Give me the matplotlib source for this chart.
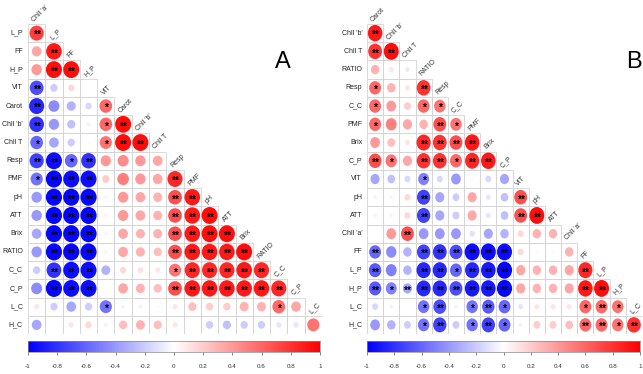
import numpy as np
import matplotlib
matplotlib.use("Agg")
import matplotlib.pyplot as plt
from matplotlib.colors import LinearSegmentedColormap
from matplotlib.patches import Ellipse, Rectangle

plt.rcParams['font.family'] = ['Liberation Sans', 'DejaVu Sans']

# panel A
varsA = ["Chll 'a'", "L_P", "FF", "H_P", "VIT", "Carot", "Chll 'b'", "Chll T", "Resp", "PMF",
         "pH", "ATT", "Brix", "RATIO", "C_C", "C_P", "L_C", "H_C"]
corrA = [
    [0.75],
    [0.35, 0.90],
    [0.40, 0.95, 0.95],
    [-0.70, -0.20, 0.15, 0.02],
    [-0.85, -0.45, -0.30, -0.15, 0.60],
    [-0.80, -0.40, -0.25, -0.05, 0.60, 0.95],
    [-0.60, -0.35, -0.20, -0.02, 0.55, 0.95, 0.95],
    [-0.75, -0.95, -0.60, -0.80, 0.40, 0.45, 0.40, 0.35],
    [-0.55, -0.97, -0.95, -0.95, 0.20, 0.50, 0.40, 0.35, 0.85],
    [-0.40, -0.97, -0.97, -0.97, 0.05, 0.40, 0.35, 0.30, 0.70, 0.90],
    [-0.40, -0.97, -0.97, -0.97, 0.05, 0.40, 0.35, 0.30, 0.70, 0.90, 0.95],
    [-0.35, -0.97, -0.97, -0.97, 0.05, 0.35, 0.30, 0.30, 0.70, 0.90, 0.95, 0.95],
    [-0.40, -0.97, -0.97, -0.97, 0.05, 0.35, 0.30, 0.25, 0.70, 0.90, 0.90, 0.90, 0.95],
    [-0.20, -0.80, -0.95, -0.95, -0.30, 0.15, 0.12, 0.10, 0.55, 0.85, 0.85, 0.85, 0.90, 0.85],
    [-0.45, -0.97, -0.95, -0.95, 0.00, 0.35, 0.30, 0.25, 0.70, 0.90, 0.90, 0.90, 0.90, 0.90, 0.85],
    [0.10, -0.20, -0.35, -0.20, -0.55, -0.05, -0.05, -0.02, 0.10, 0.25, 0.20, 0.20, 0.30, 0.30, 0.60, 0.35],
    [-0.35, 0.00, 0.10, 0.15, -0.05, 0.25, 0.30, 0.25, 0.10, 0.00, -0.20, -0.25, -0.20, -0.20, -0.10, -0.10, 0.55],
]
# 0 = none, 1 = *, 2 = **
sigA = ["2", "02", "022", "2000", "20001", "200012", "1000122", "22120000", "122200002",
        "0222000022", "02220000222", "022200002222", "0222000022222", "02220000122222",
        "022200002222222", "0000100000000010", "00000000000000000"]

# panel B
varsB = ["Carot", "Chll 'b'", "Chll T", "RATIO", "Resp", "C_C", "PMF", "Brix", "C_P", "VIT",
         "pH", "ATT", "Chll 'a'", "FF", "L_P", "H_P", "L_C", "H_C"]
corrB = [
    [0.90],
    [0.80, 0.95],
    [0.30, 0.10, -0.08],
    [0.60, 0.30, 0.10, 0.80],
    [0.60, 0.40, 0.20, 0.60, 0.55],
    [0.60, 0.50, 0.35, 0.30, 0.70, 0.55],
    [0.40, 0.25, 0.10, 0.85, 0.80, 0.70, 0.90],
    [0.70, 0.55, 0.35, 0.80, 0.80, 0.60, 0.85, 0.90],
    [-0.35, -0.25, -0.15, -0.50, -0.15, -0.40, 0.03, -0.15, -0.35],
    [-0.05, 0.05, 0.15, -0.75, -0.35, -0.20, 0.35, -0.10, -0.25, 0.70],
    [-0.05, 0.05, 0.15, -0.75, -0.35, -0.20, 0.35, -0.10, -0.25, 0.70, 0.95],
    [0.00, 0.40, 0.70, -0.40, -0.40, -0.40, -0.12, -0.35, -0.30, 0.15, 0.30, 0.30],
    [-0.60, -0.45, -0.30, -0.75, -0.80, -0.70, -0.95, -0.95, -0.95, 0.15, 0.02, 0.02, 0.30],
    [-0.65, -0.50, -0.30, -0.85, -0.85, -0.60, -0.85, -0.90, -0.97, 0.35, 0.30, 0.30, 0.35, 0.85],
    [-0.65, -0.50, -0.35, -0.85, -0.85, -0.70, -0.90, -0.90, -0.97, 0.35, 0.30, 0.30, 0.35, 0.90, 0.95],
    [-0.15, -0.05, 0.00, -0.55, -0.70, 0.05, -0.55, -0.65, -0.60, -0.10, 0.10, 0.10, 0.10, 0.60, 0.60, 0.55],
    [-0.40, -0.30, -0.20, -0.55, -0.75, -0.20, -0.55, -0.75, -0.60, -0.05, 0.20, 0.20, 0.25, 0.60, 0.60, 0.55, 0.80],
]
sigB = ["2", "22", "000", "1002", "10011", "100021", "0002222", "21022122", "000100000",
        "0002000002", "00020000022", "002000000000", "2002222220000", "20022122200002",
        "212222222000022", "0001201210000121", "00012012100002212"]

ticks = np.round(np.arange(-1, 1.01, 0.2), 1)
tick_labels = ["-1", "-0.8", "-0.6", "-0.4", "-0.2", "0", "0.2", "0.4", "0.6", "0.8", "1"]

cmap = LinearSegmentedColormap.from_list("bwr2", ["#0000FF", "#FFFFFF", "#FF0000"])
W, H = 643, 374


def px_axes(fig, x0, y0, x1, y1):
    return fig.add_axes([x0 / W, 1 - y1 / H, (x1 - x0) / W, (y1 - y0) / H])


def draw_panel(fig, names, corr, sig, x0, x1, letter, lx):
    n = len(corr)
    ax = px_axes(fig, x0, 24, x1, 334)
    ax.set_xlim(0, n)
    ax.set_ylim(n, 0)
    ax.axis("off")
    for r in range(n):
        for c in range(r + 1):
            ax.add_patch(Rectangle((c, r), 1, 1, fill=False, ec="#d4d4d4", lw=0.6))
            v = corr[r][c]
            d = 0.95 * np.sqrt(abs(v))
            ax.add_patch(Ellipse((c + 0.5, r + 0.5), d, d, fc=cmap((v + 1) / 2), ec="none"))
            s = int(sig[r][c])
            if s:
                ax.text(c + 0.5, r + 0.62, "*" * s, ha="center", va="center",
                        fontsize=7.5, fontweight="bold", color="black")
        ax.text(-0.3, r + 0.5, names[r + 1], ha="right", va="center", fontsize=5,
                color="#222222")
        ax.text(r + 0.45, r - 0.05, names[r], ha="left", va="bottom", fontsize=5,
                rotation=45, rotation_mode="anchor", color="#333333", clip_on=False)
    fig.text(lx / W, 1 - 62 / H, letter, ha="center", va="center", fontsize=17)

    # colour bar
    cax = px_axes(fig, x0, 341, x1 - 2, 352)
    grad = np.linspace(-1, 1, 256).reshape(1, -1)
    cax.imshow(grad, cmap=cmap, aspect="auto", extent=(-1, 1, 0, 1), vmin=-1, vmax=1)
    cax.set_xlim(-1, 1)
    cax.set_yticks([])
    cax.set_xticks(ticks)
    cax.set_xticklabels(tick_labels, fontsize=4.5, color="#333333")
    cax.tick_params(axis="x", length=2, width=0.5, pad=7, color="#555555")
    for sp in cax.spines.values():
        sp.set_linewidth(0.5)
        sp.set_color("#888888")


fig = plt.figure(figsize=(W / 100, H / 100), dpi=100)
draw_panel(fig, varsA, corrA, sigA, 28, 322, "A", 283)
draw_panel(fig, varsB, corrB, sigB, 367, 642, "B", 634)
fig.savefig("out.png", dpi=100, facecolor="white")
